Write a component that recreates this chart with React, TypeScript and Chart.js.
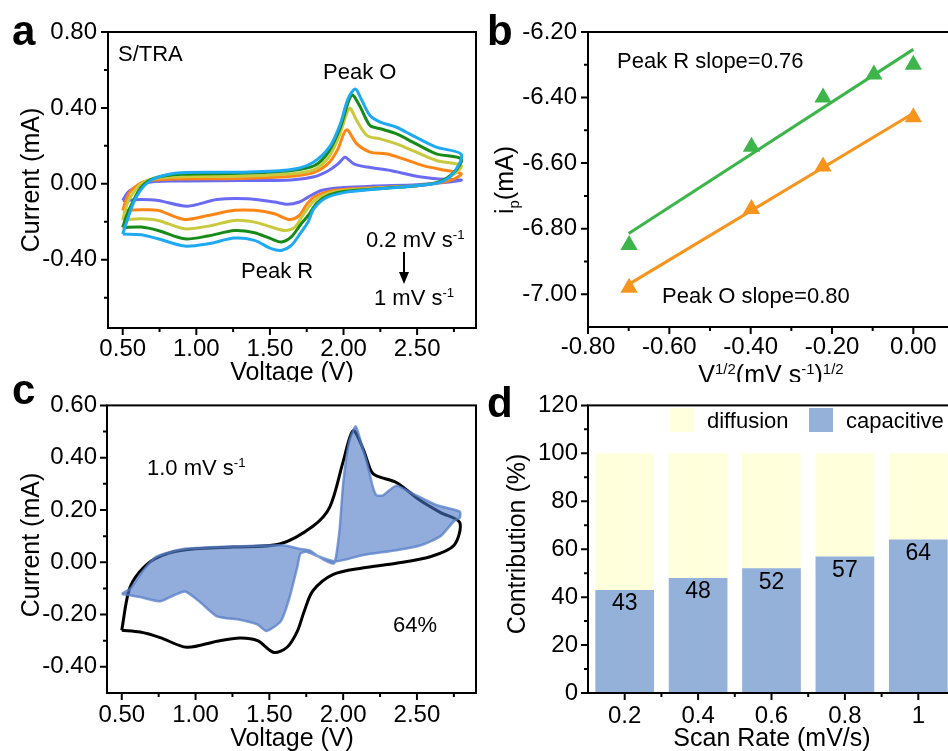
import React, { useEffect, useRef } from 'react';
import { Chart, registerables } from 'chart.js';

Chart.register(...registerables);

const FONT = "'Liberation Sans', Arial, Helvetica, sans-serif";
Chart.defaults.font.family = FONT;
Chart.defaults.color = '#000';

type P = [number, number];

// ---------------- Panel a: CV curves (Voltage V, Current mA) ----------------
const scanRatesA = ['0.2', '0.4', '0.6', '0.8', '1.0'];
const cv02: P[] = [
  [0.5, -0.088], [0.53, -0.05], [0.56, -0.03], [0.65, 0.005], [0.85, 0.015], [1.3, 0.017], [1.645, 0.02],
  [1.8, 0.037], [1.9, 0.07], [1.97, 0.11], [2.01, 0.14], [2.07, 0.105], [2.16, 0.088], [2.32, 0.07],
  [2.47, 0.044], [2.63, 0.026], [2.8, 0.02],
  [2.7, 0.008], [2.5, -0.005], [2.2, -0.012], [2.0, -0.02], [1.85, -0.035], [1.76, -0.07], [1.7, -0.096],
  [1.62, -0.108], [1.53, -0.096], [1.345, -0.079], [1.14, -0.083], [0.94, -0.118], [0.74, -0.088],
  [0.625, -0.083], [0.5, -0.088],
];
const cv04: P[] = [
  [0.5, -0.14], [0.53, -0.07], [0.557, -0.035], [0.648, 0.012], [0.85, 0.025], [1.3, 0.028], [1.645, 0.04],
  [1.8, 0.06], [1.9, 0.11], [1.96, 0.18], [2.02, 0.284], [2.09, 0.21], [2.18, 0.167], [2.29, 0.158],
  [2.41, 0.13], [2.54, 0.096], [2.7, 0.07], [2.8, 0.053],
  [2.75, 0.025], [2.65, 0.005], [2.5, -0.01], [2.3, -0.018], [2.0, -0.03], [1.9, -0.04], [1.8, -0.07],
  [1.745, -0.114], [1.7, -0.167], [1.63, -0.188], [1.53, -0.158], [1.395, -0.14], [1.26, -0.14],
  [1.08, -0.167], [0.92, -0.188], [0.74, -0.14], [0.625, -0.137], [0.5, -0.14],
];
const cv06: P[] = [
  [0.5, -0.19], [0.52, -0.13], [0.545, -0.079], [0.625, 0.0], [0.74, 0.03], [0.965, 0.038], [1.3, 0.04],
  [1.645, 0.053], [1.8, 0.075], [1.9, 0.14], [1.97, 0.25], [2.04, 0.398], [2.09, 0.333], [2.16, 0.254],
  [2.25, 0.237], [2.36, 0.21], [2.47, 0.175], [2.63, 0.123], [2.8, 0.096],
  [2.75, 0.05], [2.65, 0.01], [2.5, -0.01], [2.3, -0.02], [2.0, -0.035], [1.9, -0.05], [1.8, -0.09],
  [1.73, -0.158], [1.67, -0.228], [1.6, -0.246], [1.51, -0.228], [1.395, -0.202], [1.26, -0.193],
  [1.08, -0.223], [0.92, -0.237], [0.74, -0.193], [0.625, -0.184], [0.5, -0.19],
];
const cv08: P[] = [
  [0.5, -0.23], [0.525, -0.17], [0.557, -0.114], [0.625, -0.018], [0.715, 0.03], [0.9, 0.05], [1.3, 0.055],
  [1.645, 0.07], [1.8, 0.095], [1.9, 0.17], [1.98, 0.3], [2.055, 0.468], [2.11, 0.41], [2.18, 0.307],
  [2.25, 0.29], [2.36, 0.263], [2.47, 0.22], [2.63, 0.158], [2.8, 0.13],
  [2.75, 0.06], [2.65, 0.01], [2.5, -0.01], [2.3, -0.022], [2.0, -0.04], [1.9, -0.06], [1.82, -0.1],
  [1.76, -0.167], [1.713, -0.21], [1.645, -0.28], [1.577, -0.307], [1.51, -0.29], [1.395, -0.258],
  [1.26, -0.246], [1.08, -0.275], [0.92, -0.29], [0.74, -0.246], [0.625, -0.228], [0.5, -0.23],
];
const cv10: P[] = [
  [0.5, -0.265], [0.534, -0.184], [0.58, -0.088], [0.648, -0.009], [0.74, 0.035], [0.9, 0.058], [1.3, 0.061],
  [1.645, 0.075], [1.795, 0.114], [1.91, 0.2], [1.98, 0.32], [2.03, 0.447], [2.08, 0.5], [2.12, 0.447],
  [2.18, 0.36], [2.25, 0.325], [2.36, 0.298], [2.47, 0.254], [2.63, 0.193], [2.8, 0.155],
  [2.75, 0.06], [2.66, 0.009], [2.47, -0.012], [2.25, -0.026], [2.02, -0.044], [1.88, -0.075], [1.8, -0.13],
  [1.76, -0.2], [1.713, -0.254], [1.645, -0.325], [1.577, -0.351], [1.51, -0.342], [1.395, -0.298],
  [1.26, -0.286], [1.08, -0.316], [0.92, -0.328], [0.74, -0.29], [0.625, -0.268], [0.5, -0.265],
];
const seriesA = [cv02, cv04, cv06, cv08, cv10];
const colorsA = ['#6A6AF3', '#FF8516', '#C9C93E', '#178A17', '#1FA9F2'];

const voltTicks = [0.5, 1.0, 1.5, 2.0, 2.5];
const voltMinor = [0.75, 1.25, 1.75, 2.25, 2.75];
const curTicksA = [-0.4, 0, 0.4, 0.8];
const curMinorA = [-0.6, -0.2, 0.2, 0.6];

// ---------------- Panel b: peak current vs scan rate ----------------
const logRateR = [-0.699, -0.398, -0.222, -0.097, 0];
const peakR = [-6.85, -6.55, -6.40, -6.33, -6.30];
const logRateO = [-0.699, -0.398, -0.222, 0];
const peakO = [-6.98, -6.74, -6.61, -6.46];
const fitX = [-0.70, 0];
const fitR = [-6.815, -6.253];
const fitO = [-6.97, -6.448];
const bXTicks = [-0.8, -0.6, -0.4, -0.2, 0];
const bXMinor = [-0.7, -0.5, -0.3, -0.1];
const bYTicks = [-7.0, -6.8, -6.6, -6.4, -6.2];
const bYMinor = [-6.9, -6.7, -6.5, -6.3];

// ---------------- Panel c: total CV and capacitive part at 1.0 mV/s ----------------
const cvTotal: P[] = [
  [0.5, -0.26], [0.548, -0.109], [0.616, -0.04], [0.73, 0.015], [0.91, 0.046], [1.25, 0.058], [1.57, 0.07],
  [1.795, 0.138], [1.91, 0.212], [2.0, 0.385], [2.067, 0.503], [2.135, 0.434], [2.19, 0.348], [2.226, 0.33],
  [2.36, 0.305], [2.52, 0.237], [2.66, 0.19], [2.79, 0.152],
  [2.75, 0.064], [2.59, 0.021], [2.36, -0.004], [2.13, -0.022], [1.93, -0.047], [1.795, -0.109],
  [1.735, -0.189], [1.69, -0.263], [1.62, -0.325], [1.53, -0.345], [1.42, -0.3], [1.3, -0.29],
  [1.146, -0.302], [0.94, -0.325], [0.76, -0.288], [0.625, -0.267], [0.5, -0.26],
];
const cvCapacitive: P[] = [
  [0.5, -0.121], [0.56, -0.1], [0.64, -0.035], [0.73, 0.02], [0.91, 0.05], [1.25, 0.06], [1.59, 0.065],
  [1.70, 0.052], [1.77, 0.046], [1.82, 0.027], [1.885, 0.005], [1.94, -0.004], [1.975, 0.12], [2.0, 0.3],
  [2.04, 0.46], [2.085, 0.52], [2.12, 0.46], [2.16, 0.385], [2.2, 0.29], [2.226, 0.256], [2.27, 0.256],
  [2.36, 0.293], [2.475, 0.262], [2.63, 0.219], [2.79, 0.194],
  [2.79, 0.17], [2.75, 0.157], [2.66, 0.1], [2.52, 0.064], [2.36, 0.046], [2.13, 0.027], [1.95, 0.003],
  [1.84, 0.021], [1.75, 0.04], [1.71, 0.033], [1.69, -0.016], [1.634, -0.14], [1.577, -0.226],
  [1.48, -0.263], [1.42, -0.238], [1.3, -0.22], [1.146, -0.207], [1.03, -0.152], [0.93, -0.112],
  [0.85, -0.127], [0.76, -0.149], [0.625, -0.133], [0.5, -0.121],
];
const curTicksC = [-0.4, -0.2, 0, 0.2, 0.4, 0.6];
const curMinorC = [-0.3, -0.1, 0.1, 0.3, 0.5];

// ---------------- Panel d: contribution ----------------
const scanRatesD = ['0.2', '0.4', '0.6', '0.8', '1'];
const capacitive = [43, 48, 52, 57, 64];
const diffusion = [57, 52, 48, 43, 36];
const pctTicks = [0, 20, 40, 60, 80, 100, 120];
const pctMinor = [10, 30, 50, 70, 90, 110];

// ---------------- helpers ----------------
type Seg = { t: string; s?: 'sup' | 'sub' };

function rich(ctx: CanvasRenderingContext2D, segs: Seg[], x: number, y: number, size: number,
  align: 'left' | 'center' = 'left', rot = 0, weight = 'normal') {
  ctx.save();
  ctx.translate(x, y);
  if (rot) ctx.rotate(rot);
  const small = size * 0.6;
  let w = 0;
  for (const s of segs) {
    ctx.font = `${weight} ${s.s ? small : size}px ${FONT}`;
    w += ctx.measureText(s.t).width;
  }
  let cx = align === 'center' ? -w / 2 : 0;
  ctx.textAlign = 'left';
  ctx.textBaseline = 'alphabetic';
  ctx.fillStyle = '#000';
  for (const s of segs) {
    ctx.font = `${weight} ${s.s ? small : size}px ${FONT}`;
    const dy = s.s === 'sup' ? -size * 0.38 : s.s === 'sub' ? size * 0.22 : 0;
    ctx.fillText(s.t, cx, dy);
    cx += ctx.measureText(s.t).width;
  }
  ctx.restore();
}

const T = (t: string): Seg => ({ t });
const SUP = (t: string): Seg => ({ t, s: 'sup' });
const SUB = (t: string): Seg => ({ t, s: 'sub' });

function decor(xMajor: number[], xMinor: number[], yMajor: number[], yMinor: number[],
  extra: (ctx: CanvasRenderingContext2D, chart: any) => void) {
  return {
    id: 'decor',
    afterDraw(chart: any) {
      const { ctx, chartArea: ca, scales } = chart;
      const xs = scales.x;
      const ys = scales.y;
      ctx.save();
      ctx.strokeStyle = '#000';
      ctx.lineWidth = 2;
      ctx.beginPath();
      for (const v of xMajor) { const p = xs.getPixelForValue(v); ctx.moveTo(p, ca.bottom); ctx.lineTo(p, ca.bottom + 7); }
      for (const v of xMinor) { const p = xs.getPixelForValue(v); ctx.moveTo(p, ca.bottom); ctx.lineTo(p, ca.bottom + 4); }
      for (const v of yMajor) { const p = ys.getPixelForValue(v); ctx.moveTo(ca.left, p); ctx.lineTo(ca.left - 7, p); }
      for (const v of yMinor) { const p = ys.getPixelForValue(v); ctx.moveTo(ca.left, p); ctx.lineTo(ca.left - 4, p); }
      ctx.stroke();
      ctx.strokeRect(ca.left, ca.top, ca.right - ca.left, ca.bottom - ca.top);
      ctx.restore();
      ctx.save();
      extra(ctx, chart);
      ctx.restore();
    },
  };
}

function linScale(min: number, max: number, ticks: number[], digits: number, pad: number,
  size: number, horizontal: boolean) {
  return {
    type: 'linear',
    min, max,
    grid: { display: false, drawTicks: false },
    border: { display: false },
    afterBuildTicks: (s: any) => { s.ticks = ticks.map((v) => ({ value: v })); },
    afterFit: (s: any) => { if (horizontal) s.height = size; else s.width = size; },
    ticks: {
      padding: pad, color: '#000', autoSkip: false, maxRotation: 0,
      font: { size: 24, family: FONT },
      callback: (v: any) => Number(v).toFixed(digits),
    },
  };
}

function baseOpts(padding: any) {
  return {
    responsive: false,
    animation: false,
    devicePixelRatio: 1,
    events: [],
    layout: { padding },
    plugins: { legend: { display: false }, tooltip: { enabled: false } },
  };
}

const toXY = (d: P[]) => d.map(([x, y]) => ({ x, y }));

// ---------------- chart configs ----------------
function configA(): any {
  const datasets = seriesA.map((d, i) => ({
    label: scanRatesA[i] + ' mV/s',
    data: toXY(d),
    borderColor: colorsA[i],
    borderWidth: 3,
    pointRadius: 0,
    tension: 0.3,
    fill: false,
  })).reverse();
  return {
    type: 'line',
    data: { datasets },
    options: {
      ...baseOpts({ left: 0, top: 32, right: 4, bottom: 0 }),
      scales: {
        x: linScale(0.4, 2.9, voltTicks, 2, 7, 54, true),
        y: linScale(-0.76, 0.8, curTicksA, 2, 11, 108, false),
      },
    },
    plugins: [decor(voltTicks, voltMinor, curTicksA, curMinorA, (ctx) => {
      rich(ctx, [T('a')], 12, 45, 42, 'left', 0, 'bold');
      rich(ctx, [T('S/TRA')], 118, 61, 22);
      rich(ctx, [T('Peak O')], 323, 79, 22);
      rich(ctx, [T('Peak R')], 241, 278, 22);
      rich(ctx, [T('0.2 mV s'), SUP('-1')], 366, 247, 22);
      rich(ctx, [T('1 mV s'), SUP('-1')], 374, 305, 22);
      ctx.strokeStyle = '#000';
      ctx.fillStyle = '#000';
      ctx.lineWidth = 2;
      ctx.beginPath(); ctx.moveTo(404, 252); ctx.lineTo(404, 275); ctx.stroke();
      ctx.beginPath(); ctx.moveTo(399, 272); ctx.lineTo(409, 272); ctx.lineTo(404, 284); ctx.closePath(); ctx.fill();
      rich(ctx, [T('Current (mA)')], 39, 180, 25, 'center', -Math.PI / 2);
      rich(ctx, [T('Voltage (V)')], 292, 380, 25, 'center');
    })],
  };
}

function configB(): any {
  const green = '#3DB54A';
  const orange = '#F7941D';
  return {
    type: 'scatter',
    data: {
      datasets: [
        { label: 'Peak R', data: logRateR.map((x, i) => ({ x, y: peakR[i] })), pointStyle: 'triangle',
          pointRadius: 10, backgroundColor: green, borderColor: green, borderWidth: 0 },
        { label: 'Peak O', data: logRateO.map((x, i) => ({ x, y: peakO[i] })), pointStyle: 'triangle',
          pointRadius: 10, backgroundColor: orange, borderColor: orange, borderWidth: 0 },
        { label: 'fit R', data: fitX.map((x, i) => ({ x, y: fitR[i] })), showLine: true, pointRadius: 0,
          borderColor: green, borderWidth: 3 },
        { label: 'fit O', data: fitX.map((x, i) => ({ x, y: fitO[i] })), showLine: true, pointRadius: 0,
          borderColor: orange, borderWidth: 3 },
      ],
    },
    options: {
      ...baseOpts({ left: 0, top: 32, right: 9, bottom: 0 }),
      scales: {
        x: linScale(-0.8, 0.1, bXTicks, 2, 6, 55, true),
        y: linScale(-7.1, -6.2, bYTicks, 2, 11, 114, false),
      },
    },
    plugins: [decor(bXTicks, bXMinor, bYTicks, bYMinor, (ctx) => {
      rich(ctx, [T('b')], 13, 45, 42, 'left', 0, 'bold');
      rich(ctx, [T('Peak R slope=0.76')], 143, 68, 22);
      rich(ctx, [T('Peak O slope=0.80')], 188, 303, 22);
      rich(ctx, [T('i'), SUB('p'), T('(mA)')], 39, 180, 25, 'center', -Math.PI / 2);
      rich(ctx, [T('V'), SUP('1/2'), T('(mV s'), SUP('-1'), T(')'), SUP('1/2')], 297, 383, 25, 'center');
    })],
  };
}

function configC(): any {
  return {
    type: 'line',
    data: {
      datasets: [
        { label: 'capacitive', data: toXY(cvCapacitive), borderColor: 'rgba(86,126,198,0.75)', borderWidth: 2.5,
          backgroundColor: 'rgba(74,116,196,0.6)', fill: 'shape', pointRadius: 0, tension: 0.2 },
        { label: 'total', data: toXY(cvTotal), borderColor: '#000', borderWidth: 3, pointRadius: 0,
          tension: 0.3, fill: false },
      ],
    },
    options: {
      ...baseOpts({ left: 0, top: 17, right: 4, bottom: 0 }),
      scales: {
        x: linScale(0.4, 2.9, voltTicks, 2, 8, 58, true),
        y: linScale(-0.5, 0.6, curTicksC, 2, 10, 107, false),
      },
    },
    plugins: [decor(voltTicks, voltMinor, curTicksC, curMinorC, (ctx) => {
      rich(ctx, [T('c')], 12, 23, 42, 'left', 0, 'bold');
      rich(ctx, [T('1.0 mV s'), SUP('-1')], 147, 94, 22);
      rich(ctx, [T('64%')], 393, 251, 22);
      rich(ctx, [T('Current (mA)')], 39, 164, 25, 'center', -Math.PI / 2);
      rich(ctx, [T('Voltage (V)')], 292, 365, 25, 'center');
    })],
  };
}

function configD(): any {
  const blue = '#94B1DA';
  const cream = '#FFFFDC';
  const idx = scanRatesD.map((_, i) => i);
  const bounds = scanRatesD.slice(1).map((_, i) => i + 0.5);
  return {
    type: 'bar',
    data: {
      labels: scanRatesD,
      datasets: [
        { label: 'capacitive', data: capacitive, backgroundColor: blue, barPercentage: 0.8, categoryPercentage: 1 },
        { label: 'diffusion', data: diffusion, backgroundColor: cream, barPercentage: 0.8, categoryPercentage: 1 },
      ],
    },
    options: {
      ...baseOpts({ left: 0, top: 17, right: 9, bottom: 0 }),
      scales: {
        x: {
          type: 'category', stacked: true, offset: true,
          grid: { display: false, drawTicks: false }, border: { display: false },
          afterFit: (s: any) => { s.height = 58; },
          ticks: { padding: 9, color: '#000', font: { size: 24, family: FONT }, maxRotation: 0, autoSkip: false },
        },
        y: { ...linScale(0, 120, pctTicks, 0, 10, 114, false), stacked: true },
      },
    },
    plugins: [decor(idx, bounds, pctTicks, pctMinor, (ctx, chart) => {
      const meta = chart.getDatasetMeta(0);
      ctx.fillStyle = '#000';
      ctx.font = `23px ${FONT}`;
      ctx.textAlign = 'center';
      ctx.textBaseline = 'alphabetic';
      meta.data.forEach((el: any, i: number) => {
        ctx.fillText(String(capacitive[i]), el.x, el.y + 20.5);
      });
      ctx.fillStyle = cream;
      ctx.fillRect(196, 27, 24, 24);
      ctx.fillStyle = blue;
      ctx.fillRect(335, 27, 24, 24);
      rich(ctx, [T('diffusion')], 233, 47, 22);
      rich(ctx, [T('capacitive')], 372, 47, 22);
      rich(ctx, [T('d')], 13, 36, 42, 'left', 0, 'bold');
      rich(ctx, [T('Contribution (%)')], 51, 163, 25, 'center', -Math.PI / 2);
      rich(ctx, [T('Scan Rate (mV/s)')], 298, 365, 25, 'center');
    })],
  };
}

function ChartCanvas({ left, top, width, height, make }: { left: number; top: number; width: number; height: number; make: () => any }) {
  const ref = useRef<HTMLCanvasElement>(null);
  useEffect(() => {
    const chart = new Chart(ref.current as HTMLCanvasElement, make());
    return () => chart.destroy();
  }, []);
  return (
    <canvas ref={ref} width={width} height={height}
      style={{ position: 'absolute', left, top, width, height, display: 'block' }} />
  );
}

export default function App() {
  return (
    <div style={{ position: 'fixed', left: 0, top: 0, width: 948, height: 751, overflow: 'hidden', background: '#fff' }}>
      <ChartCanvas left={0} top={0} width={480} height={382} make={configA} />
      <ChartCanvas left={474} top={0} width={490} height={382} make={configB} />
      <ChartCanvas left={0} top={381} width={480} height={370} make={configC} />
      <ChartCanvas left={474} top={381} width={490} height={370} make={configD} />
    </div>
  );
}
